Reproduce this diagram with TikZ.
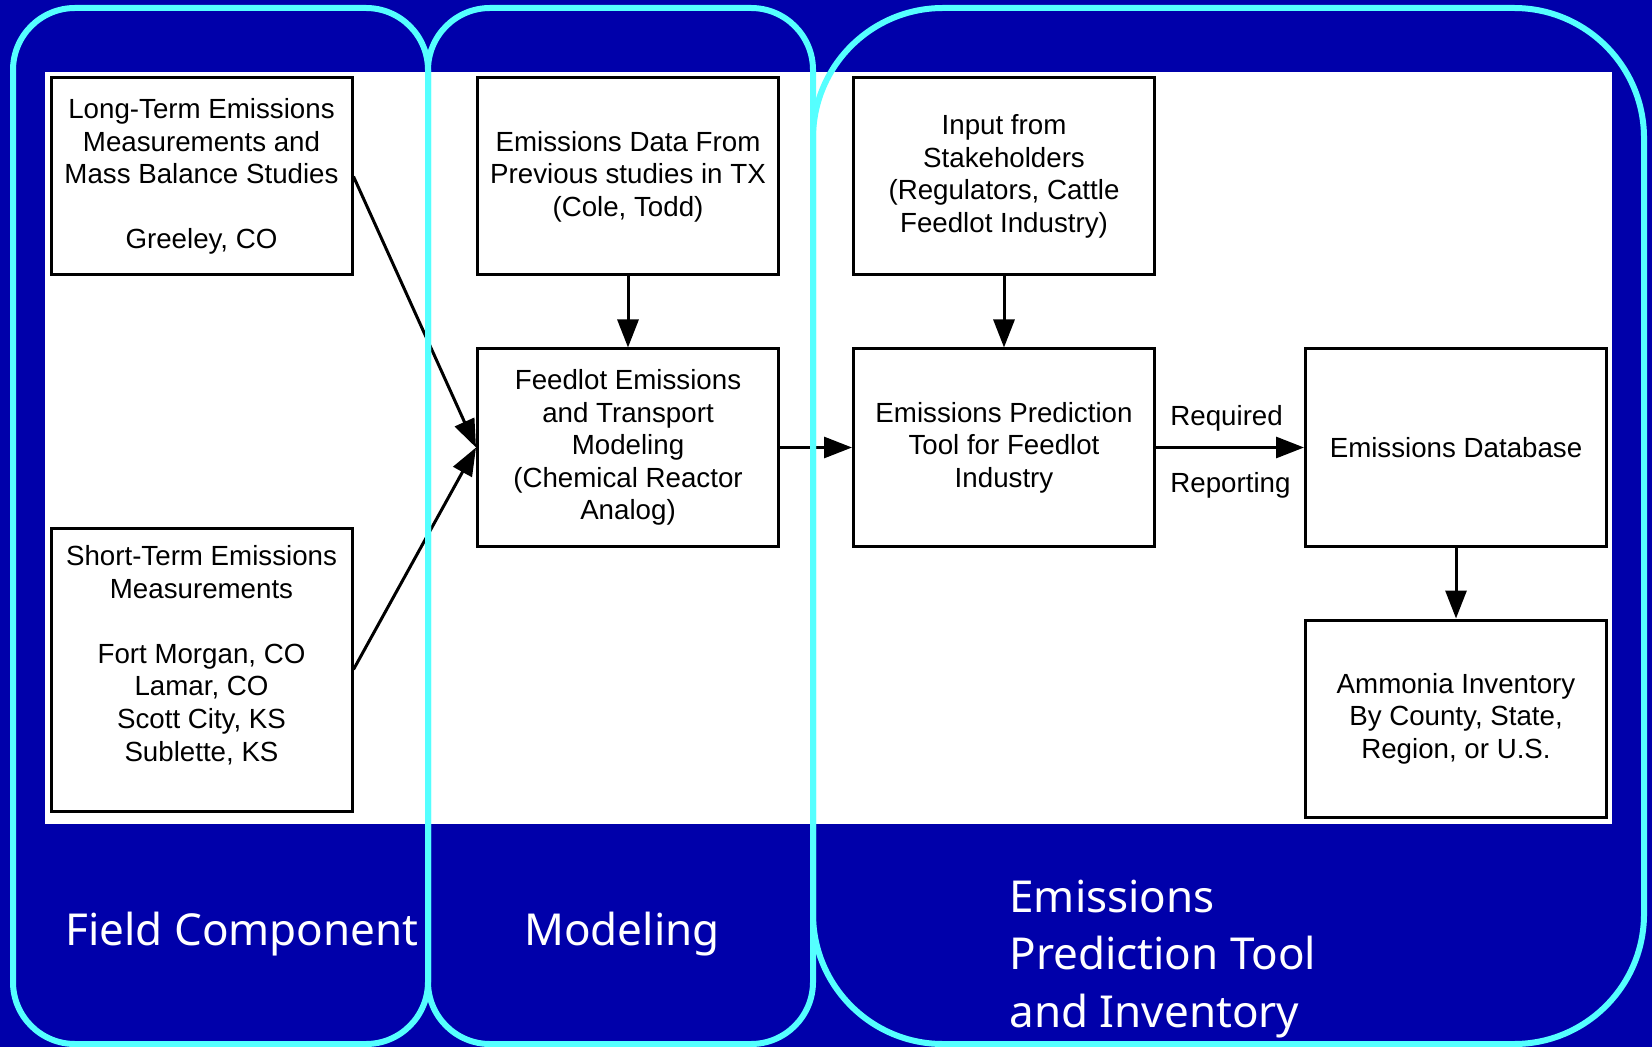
\documentclass[tikz,border=0pt]{standalone}
\usepackage{fontspec}
\setmainfont{Liberation Sans}
\newfontfamily\labelfont{Noto Sans}
\usetikzlibrary{arrows.meta}
\definecolor{bgblue}{HTML}{0000AA}
\definecolor{framecyan}{HTML}{55FFFF}
\tikzset{
  stepbox/.style={draw=black, line width=1.5pt, fill=white, inner sep=0pt,
    minimum width=150.5pt, minimum height=98.5pt, align=center,
    font=\fontsize{13.85pt}{16.3pt}\selectfont},
  arr/.style={line width=1.5pt, -{Triangle[length=14pt,width=10.5pt]}},
  frame/.style={draw=framecyan, line width=3pt},
  lbl/.style={font=\fontsize{13.85pt}{16.3pt}\selectfont, inner sep=0pt},
  biglbl/.style={text=white, inner sep=0pt, font=\labelfont\fontsize{22pt}{28.75pt}\selectfont}
}
\begin{document}
\begin{tikzpicture}[x=0.5pt, y=-0.5pt]
\useasboundingbox (0,0) rectangle (1652,1047);
\fill[bgblue] (0,0) rectangle (1652,1047);
\fill[white] (45,72) rectangle (1612,824);

\node[stepbox] (b1) at (201.5,176.5) {Long-Term Emissions\\Measurements and\\Mass Balance Studies\\[16.3pt]Greeley, CO};
\node[stepbox, minimum height=141.5pt] (b2) at (201.5,669.5) {Short-Term Emissions\\Measurements\\[16.3pt]Fort Morgan, CO\\Lamar, CO\\Scott City, KS\\Sublette, KS\\\mbox{}};
\node[stepbox] (b3) at (628,176.5) {Emissions Data From\\Previous studies in TX\\(Cole, Todd)};
\node[stepbox] (b4) at (628,447.5) {Feedlot Emissions\\and Transport\\Modeling\\(Chemical Reactor\\Analog)};
\node[stepbox] (b5) at (1004,176.5) {Input from\\Stakeholders\\(Regulators, Cattle\\Feedlot Industry)};
\node[stepbox] (b6) at (1004,447.5) {Emissions Prediction\\Tool for Feedlot\\Industry};
\node[stepbox] (b7) at (1456,447.5) {Emissions Database};
\node[stepbox] (b8) at (1456,718.5) {Ammonia Inventory\\By County, State,\\Region, or U.S.};

\draw[arr] (b1.east) -- (b4.west);
\draw[arr] (b2.east) -- (b4.west);
\draw[arr] (b3) -- (b4);
\draw[arr] (b5) -- (b6);
\draw[arr] (b4) -- (b6);
\draw[arr] (b6) -- (b7)
  node[lbl, pos=0.087, anchor=base west, yshift=11pt] (req) {Required}
  node[lbl, pos=0.087, anchor=base west, yshift=-22.5pt] (rep) {Reporting};
\draw[arr] (b7) -- (b8);

\draw[frame, rounded corners=31pt] (13,8) rectangle (428,1044);
\draw[frame, rounded corners=31pt] (428,8) rectangle (813,1044);
\draw[frame, rounded corners=65pt] (813,8) rectangle (1644,1044);

\node[biglbl, anchor=base] (l1) at (242,945) {Field Component};
\node[biglbl, anchor=base] (l2) at (622,945) {Modeling};
\node[biglbl, anchor=base west, align=left] (l3) at (1009,1027) {Emissions\\Prediction Tool\\and Inventory};
\end{tikzpicture}
\end{document}
